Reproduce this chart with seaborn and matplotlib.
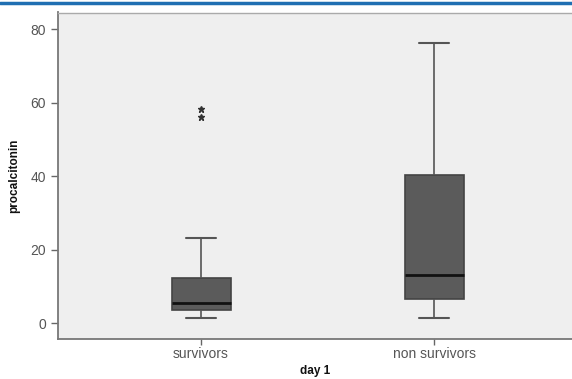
import numpy as np
import pandas as pd
import matplotlib
matplotlib.use("Agg")
import matplotlib.pyplot as plt
from matplotlib.lines import Line2D
import seaborn as sns

# estimated sample values (quartiles, whiskers, extremes)
groups = ["survivors", "non survivors"]
survivors = [1.4, 2.4, 3.0, 3.6, 4.2, 4.9, 5.6, 7.5, 9.8, 12.2, 23.1, 56.2, 58.2]
non_survivors = [1.5, 4.0, 6.6, 9.0, 13.1, 25.0, 40.3, 60.0, 76.1]
yticks = [0, 20, 40, 60, 80]

df = pd.DataFrame({
    "group": ["survivors"] * len(survivors) + ["non survivors"] * len(non_survivors),
    "procalcitonin": survivors + non_survivors,
})

sns.set_style("white")
plt.rcParams["font.family"] = ["Liberation Sans", "DejaVu Sans"]

fig = plt.figure(figsize=(5.72, 3.79), dpi=100)
ax = fig.add_axes([58 / 572, 40 / 379, 1 - 58 / 572, 326.5 / 379])
ax.set_facecolor("#efefef")

sns.boxplot(data=df, x="group", y="procalcitonin", order=groups, ax=ax,
            width=0.253, whis=1.5, color="#5b5b5b", saturation=1,
            linecolor="#444444", linewidth=1.2,
            medianprops=dict(color="#111111", linewidth=2),
            whiskerprops=dict(color="#555555", linewidth=1.2),
            capprops=dict(color="#555555", linewidth=1.5),
            flierprops=dict(marker="*", markersize=5, markerfacecolor="#333333",
                            markeredgecolor="#333333"))

ax.set_xlim(-0.614, 1.592)
ax.set_ylim(-4.27, 84.5)
ax.set_yticks(yticks)
ax.set_yticklabels([str(t) for t in yticks])

for side in ["left", "bottom"]:
    ax.spines[side].set_color("#777777")
    ax.spines[side].set_linewidth(1.3)
ax.spines["top"].set_color("#aaaaaa")
ax.spines["top"].set_linewidth(1.0)
ax.spines["right"].set_visible(False)

ax.tick_params(axis="both", colors="#666666", labelcolor="#555555",
               labelsize=10, length=5, width=1, direction="out",
               left=True, bottom=True)
ax.tick_params(axis="x", length=4, pad=1.5)
ax.set_ylabel("procalcitonin", fontsize=8.5, fontweight="bold", color="#111111")
ax.yaxis.set_label_coords(-0.074, 0.5)
ax.set_xlabel("day 1", fontsize=8.5, fontweight="bold", color="#111111",
              labelpad=3)

fig.add_artist(Line2D([0, 1], [1 - 3 / 379, 1 - 3 / 379], transform=fig.transFigure,
                      color="#1f6fb2", linewidth=2.5))

fig.savefig("out.png", dpi=100)
